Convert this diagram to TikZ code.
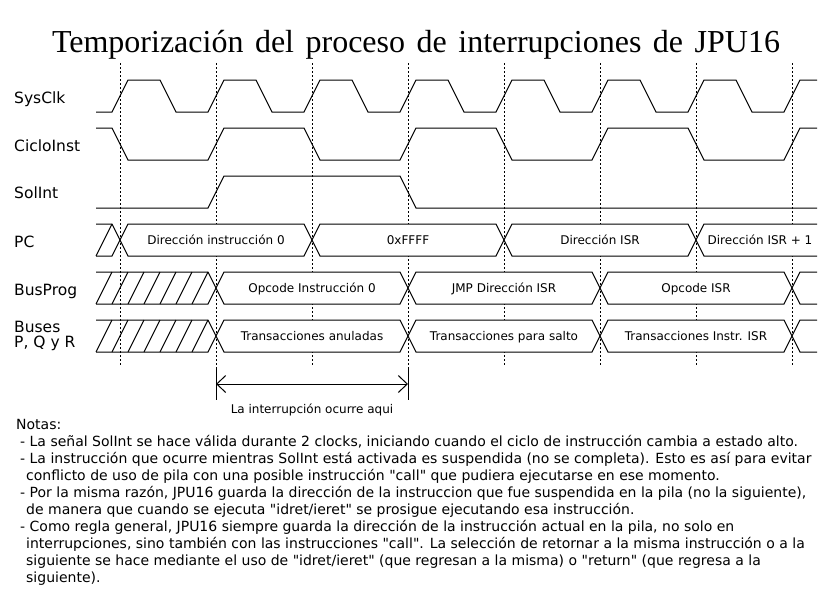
\documentclass[tikz,border=0pt]{standalone}
\usepackage{fontspec}
\setmainfont{DejaVu Sans}[Ligatures=TeXOff]
\newfontfamily\titlefont{Liberation Serif}
\usetikzlibrary{arrows.meta}
\tikzset{
  wave/.style={line width=1pt, line join=miter},
  grid/.style={line width=1pt, dash pattern=on 2pt off 2pt},
  busbox/.style={line width=1pt, fill=white},
  hatch/.style={line width=1pt},
  siglabel/.style={anchor=base west, inner sep=0pt, font=\fontsize{15.5}{18}\selectfont},
  bustext/.style={anchor=base, inner sep=0pt, font=\fontsize{12}{14}\selectfont},
  notetext/.style={anchor=base west, inner sep=0pt, font=\fontsize{14}{16}\selectfont},
  titletext/.style={anchor=base, inner sep=0pt, font=\titlefont\fontsize{32}{36}\selectfont}
}
\begin{document}
\begin{tikzpicture}[x=1pt,y=-1pt]
\useasboundingbox[fill=white] (0,0) rectangle (832,600);
% title
\node[titletext] (title) at (416,52) {\makebox[728pt][s]{Temporización del proceso de interrupciones de JPU16}};
% grid lines
\foreach \k in {0,...,7}
  \draw[grid] ({120+96*\k},63) -- ({120+96*\k},365);
% labels
\node[siglabel] (lclk) at (14,103) {SysClk};
\node[siglabel] (lciclo) at (14,151) {CicloInst};
\node[siglabel] (lsol) at (14,198) {SolInt};
\node[siglabel] (lpc) at (14,247) {PC};
\node[siglabel] (lbus) at (14,295) {BusProg};
\node[siglabel] (lbuses) at (14,332) {Buses};
\node[siglabel] (lpqr) at (14,347) {P, Q y R};
% SysClk
\draw[wave] (96,112) foreach \k in {0,...,6}{ -- ({112+96*\k},112) -- ({128+96*\k},80) -- ({160+96*\k},80) -- ({176+96*\k},112)} -- (784,112) -- (800,80) -- (817,80);
% CicloInst
\draw[wave] (96,128) -- (112,128) -- (128,160) -- (208,160) -- (224,128) -- (304,128) -- (320,160) -- (400,160) -- (416,128) -- (496,128) -- (512,160) -- (592,160) -- (608,128) -- (688,128) -- (704,160) -- (784,160) -- (800,128) -- (817,128);
% SolInt
\draw[wave] (96,208) -- (208,208) -- (224,176) -- (400,176) -- (416,208) -- (817,208);
% PC bus
\draw[hatch] (96,224) -- (112,224) -- (120,240) -- (112,256) -- (96,256);
\draw[hatch] (96,256) -- (112,224);
\draw[busbox] (120,240) -- (128,224) -- (304,224) -- (312,240) -- (304,256) -- (128,256) -- cycle;
\draw[busbox] (312,240) -- (320,224) -- (496,224) -- (504,240) -- (496,256) -- (320,256) -- cycle;
\draw[busbox] (504,240) -- (512,224) -- (688,224) -- (696,240) -- (688,256) -- (512,256) -- cycle;
\fill[white] (696,240) -- (704,224) -- (817,224) -- (817,256) -- (704,256) -- cycle;
\draw[wave] (817,224) -- (704,224) -- (696,240) -- (704,256) -- (817,256);
\node[bustext] (pc1) at (216,244.5) {Dirección instrucción 0};
\node[bustext] (pc2) at (408,244.5) {0xFFFF};
\node[bustext] (pc3) at (600,244.5) {Dirección ISR};
\node[bustext] (pc4) at (760,244.5) {Dirección ISR + 1};
% BusProg and Buses P,Q,R
\foreach \yt/\row in {272/a,320/b}{
  \draw[hatch] (96,\yt) -- (208,\yt) -- (216,{\yt+16}) -- (208,{\yt+32}) -- (96,{\yt+32});
  \foreach \h in {0,...,6}
    \draw[hatch] ({96+16*\h},{\yt+32}) -- ({112+16*\h},\yt);
  \draw[busbox] (216,{\yt+16}) -- (224,\yt) -- (400,\yt) -- (408,{\yt+16}) -- (400,{\yt+32}) -- (224,{\yt+32}) -- cycle;
  \draw[busbox] (408,{\yt+16}) -- (416,\yt) -- (592,\yt) -- (600,{\yt+16}) -- (592,{\yt+32}) -- (416,{\yt+32}) -- cycle;
  \draw[busbox] (600,{\yt+16}) -- (608,\yt) -- (784,\yt) -- (792,{\yt+16}) -- (784,{\yt+32}) -- (608,{\yt+32}) -- cycle;
  \fill[white] (792,{\yt+16}) -- (800,\yt) -- (817,\yt) -- (817,{\yt+32}) -- (800,{\yt+32}) -- cycle;
  \draw[wave] (817,\yt) -- (800,\yt) -- (792,{\yt+16}) -- (800,{\yt+32}) -- (817,{\yt+32});
}
\node[bustext] (bp1) at (312,292.5) {Opcode Instrucción 0};
\node[bustext] (bp2) at (504,292.5) {JMP Dirección ISR};
\node[bustext] (bp3) at (696,292.5) {Opcode ISR};
\node[bustext] (bq1) at (312,340.5) {Transacciones anuladas};
\node[bustext] (bq2) at (504,340.5) {Transacciones para salto};
\node[bustext] (bq3) at (696,340.5) {Transacciones Instr. ISR};
% interval marker
\coordinate (ma) at (216,384);
\coordinate (mb) at (408,384);
\draw[line width=1pt] (216,367) -- (216,400);
\draw[line width=1pt] (408,367) -- (408,400);
\draw[line width=1pt, {Straight Barb[length=9pt,width=17pt]}-{Straight Barb[length=9pt,width=17pt]}] (ma) -- (mb);
\node[bustext] (mlabel) at (312,413) {La interrupción ocurre aqui};
% notes
\node[notetext] (n0) at (16,429) {Notas:};
\node[notetext] (n1) at (20,446) {- La señal SolInt se hace válida durante 2 clocks, iniciando cuando el ciclo de instrucción cambia a estado alto.};
\node[notetext] (n2) at (20,463) {- La instrucción que ocurre mientras SolInt está activada es suspendida (no se completa). Esto es así para evitar};
\node[notetext] (n3) at (26,480) {conflicto de uso de pila con una posible instrucción "call" que pudiera ejecutarse en ese momento.};
\node[notetext] (n4) at (20,497) {- Por la misma razón, JPU16 guarda la dirección de la instruccion que fue suspendida en la pila (no la siguiente),};
\node[notetext] (n5) at (26,514) {de manera que cuando se ejecuta "idret/ieret" se prosigue ejecutando esa instrucción.};
\node[notetext] (n6) at (20,531) {- Como regla general, JPU16 siempre guarda la dirección de la instrucción actual en la pila, no solo en};
\node[notetext] (n7) at (26,548) {interrupciones, sino también con las instrucciones "call". La selección de retornar a la misma instrucción o a la};
\node[notetext] (n8) at (26,565) {siguiente se hace mediante el uso de "idret/ieret" (que regresan a la misma) o "return" (que regresa a la};
\node[notetext] (n9) at (26,582) {siguiente).};
\end{tikzpicture}
\end{document}
